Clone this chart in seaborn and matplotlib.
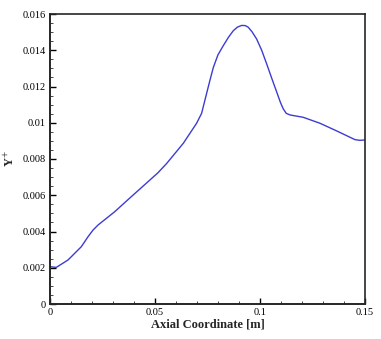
import numpy as np
import pandas as pd
import matplotlib
matplotlib.use('Agg')
import matplotlib.pyplot as plt
from matplotlib.ticker import MultipleLocator
import seaborn as sns

# values
axial = [0.0, 0.0006, 0.003, 0.0086, 0.0149, 0.0181, 0.0205, 0.0229, 0.0308,
         0.0387, 0.0467, 0.0514, 0.0556, 0.0635, 0.0698, 0.0722, 0.0738, 0.0762,
         0.0778, 0.0800, 0.0825, 0.0850, 0.0873, 0.0893, 0.0913, 0.0930, 0.0944,
         0.0962, 0.0984, 0.1008, 0.1032, 0.1056, 0.1080, 0.1098, 0.1111,
         0.1125, 0.1143, 0.1206, 0.1286, 0.1365, 0.1452, 0.1475, 0.1500]
yplus = [0.00208, 0.00205, 0.00202, 0.00243, 0.00316, 0.00371, 0.00408, 0.00436,
         0.00509, 0.00592, 0.00675, 0.00724, 0.00776, 0.00887, 0.00997, 0.01052,
         0.01126, 0.01236, 0.01306, 0.01375, 0.01425, 0.01472, 0.01508, 0.01528,
         0.01537, 0.01536, 0.01527, 0.01502, 0.01462, 0.01400, 0.01324, 0.01245,
         0.01168, 0.01110, 0.01076, 0.01052, 0.01043, 0.01030, 0.00997, 0.00955,
         0.00907, 0.00903, 0.00905]
xticks = [0, 0.05, 0.1, 0.15]
xtick_labels = ['0', '0.05', '0.1', '0.15']
yticks = [0, 0.002, 0.004, 0.006, 0.008, 0.01, 0.012, 0.014, 0.016]
ytick_labels = ['0', '0.002', '0.004', '0.006', '0.008', '0.01', '0.012', '0.014', '0.016']

df = pd.DataFrame({'x': axial, 'y': yplus})

sns.set_style('ticks')
plt.rcParams['font.family'] = ['Liberation Serif', 'DejaVu Serif']
plt.rcParams['mathtext.fontset'] = 'stix'

fig = plt.figure(figsize=(3.81, 3.39), dpi=100)
ax = fig.add_axes([50 / 381, 1 - 304 / 339, 315 / 381, 290 / 339])

sns.lineplot(data=df, x='x', y='y', ax=ax, color='#3c3cd2', linewidth=1.0)

ax.set_xlim(0, 0.15)
ax.set_ylim(0, 0.016)
ax.set_xticks(xticks)
ax.set_xticklabels(xtick_labels)
ax.set_yticks(yticks)
ax.set_yticklabels(ytick_labels)
ax.xaxis.set_minor_locator(MultipleLocator(0.01))
ax.yaxis.set_minor_locator(MultipleLocator(0.0005))
ax.tick_params(which='major', direction='in', length=4.3, width=1.0,
               labelsize=7.5, pad=3, colors='black')
ax.tick_params(which='minor', direction='in', length=2.2, width=0.6)

for side in ['left', 'bottom']:
    ax.spines[side].set_linewidth(1.4)
for side in ['top', 'right']:
    ax.spines[side].set_linewidth(1.2)

ax.set_xlabel('Axial Coordinate [m]', fontsize=9, fontweight='bold', labelpad=1)
ax.set_ylabel(r'Y$^{+}$', fontsize=9, fontweight='bold', labelpad=4)

fig.savefig('out.png', dpi=100)
